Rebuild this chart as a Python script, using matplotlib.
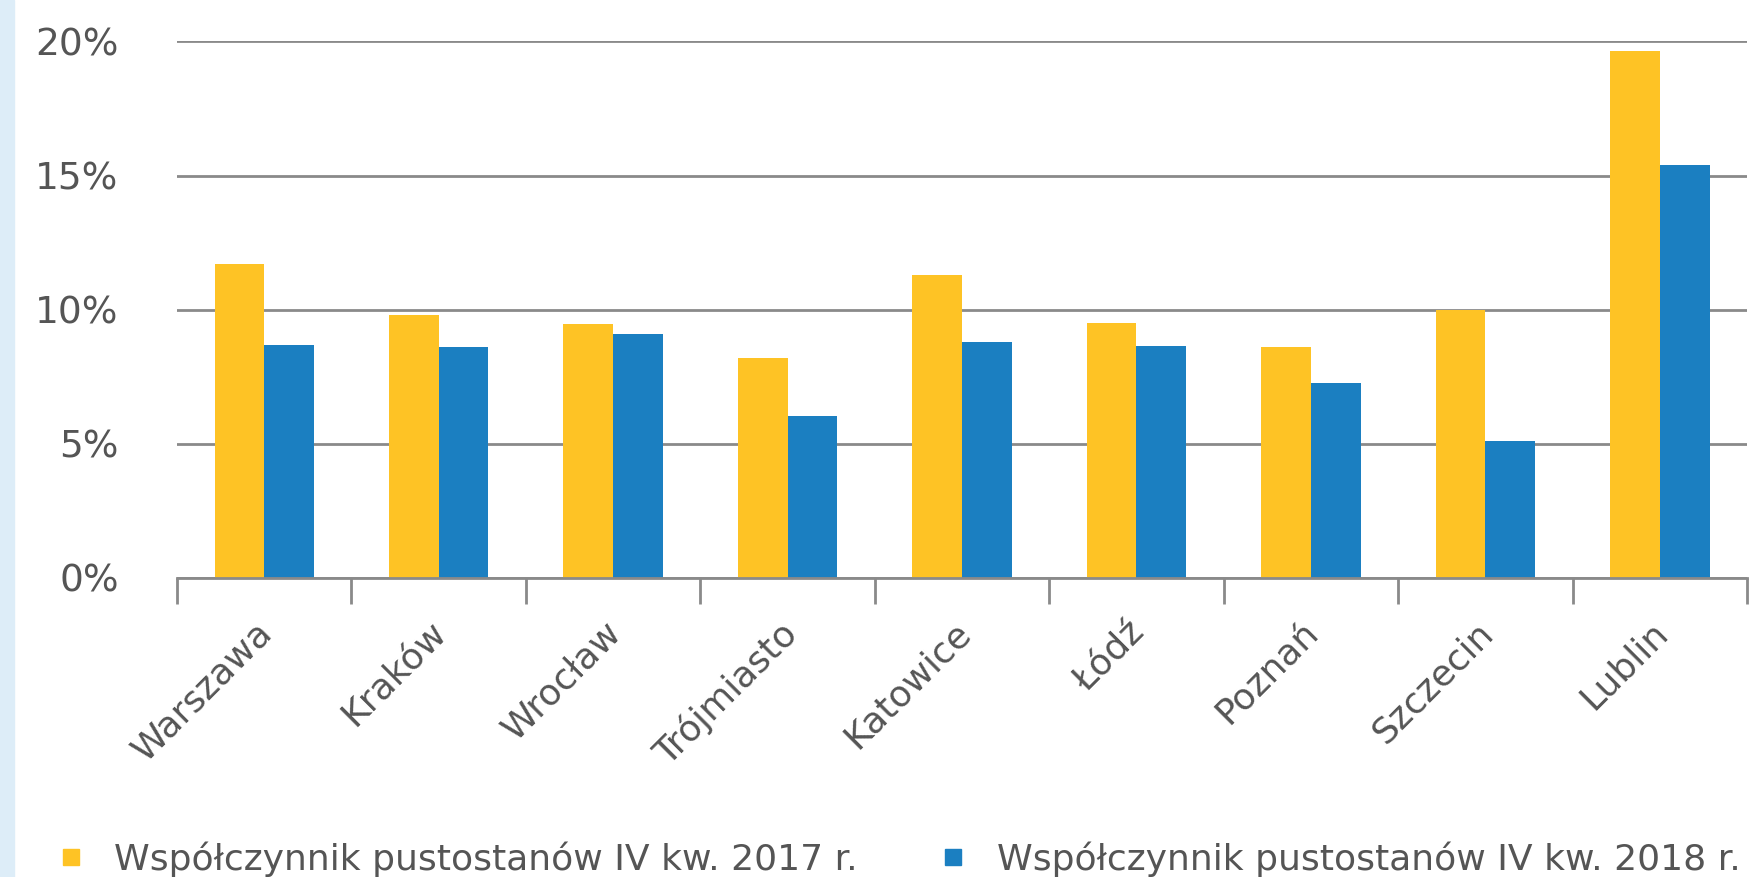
import matplotlib
matplotlib.use("Agg")
import matplotlib.pyplot as plt
import matplotlib.ticker as ticker
from matplotlib.lines import Line2D
from matplotlib.patches import Rectangle
from matplotlib.transforms import ScaledTranslation
import numpy as np

# %%
# dane (%)
miasta = ["Warszawa", "Kraków", "Wrocław", "Trójmiasto", "Katowice",
          "Łódź", "Poznań", "Szczecin", "Lublin"]
pustostany_2017 = [11.7, 9.8, 9.45, 8.2, 11.3, 9.5, 8.6, 10.0, 19.65]
pustostany_2018 = [8.7, 8.6, 9.1, 6.05, 8.8, 8.65, 7.25, 5.1, 15.4]
etykiety = ["Współczynnik pustostanów IV kw. 2017 r.",
            "Współczynnik pustostanów IV kw. 2018 r."]

kolor_2017 = "#FEC325"
kolor_2018 = "#1B7FC1"
kolor_tekstu = "#555555"
kolor_siatki = "#8A8A8A"

plt.rcParams['font.family'] = ['DejaVu Sans']

# %%
fig = plt.figure(figsize=(17.53, 8.77), dpi=100)
fig.patches.append(Rectangle((0, 0), 14 / 1753, 1, transform=fig.transFigure,
                             color="#DDEDF8", zorder=0))
ax = fig.add_axes([0.101, 0.341, 0.8956, 0.6117])

x = np.arange(len(miasta))
w = 0.285
ax.bar(x - w / 2, pustostany_2017, width=w, color=kolor_2017, zorder=3)
ax.bar(x + w / 2, pustostany_2018, width=w, color=kolor_2018, zorder=3)

ax.set_xlim(-0.5, len(miasta) - 0.5)
ax.set_ylim(0, 20)
ax.yaxis.set_major_locator(ticker.MultipleLocator(5))
ax.yaxis.set_major_formatter(ticker.FuncFormatter(lambda v, _: f"{v:.0f}%"))
ax.grid(axis='y', color=kolor_siatki, linewidth=2, zorder=1)
ax.tick_params(axis='y', length=0, pad=42, labelsize=27, labelcolor=kolor_tekstu)

ax.set_xticks(x)
ax.set_xticklabels(miasta, rotation=45, ha='right', rotation_mode='anchor')
ax.set_xticks(np.arange(len(miasta) + 1) - 0.5, minor=True)
ax.tick_params(axis='x', which='major', length=0, pad=27, labelsize=26,
               labelcolor=kolor_tekstu)
ax.tick_params(axis='x', which='minor', length=19, width=2, color=kolor_siatki)
# przesunięcie etykiet lekko w lewo
przes = ScaledTranslation(-0.09, 0, fig.dpi_scale_trans)
for lbl in ax.get_xticklabels():
    lbl.set_transform(lbl.get_transform() + przes)

for s in ['left', 'right', 'top']:
    ax.spines[s].set_visible(False)
ax.spines['bottom'].set_color(kolor_siatki)
ax.spines['bottom'].set_linewidth(2)
ax.spines['bottom'].set_zorder(4)

uchwyty = [Line2D([], [], marker='s', linestyle='none', markersize=12,
                  color=c) for c in (kolor_2017, kolor_2018)]
fig.legend(uchwyty, etykiety, loc='lower left', bbox_to_anchor=(0.0135, -0.037),
           ncol=2, frameon=False, fontsize=26, handletextpad=0.8,
           columnspacing=2.25, labelcolor=kolor_tekstu, handlelength=0.8)

fig.savefig("out.png", dpi=100, facecolor='white')
